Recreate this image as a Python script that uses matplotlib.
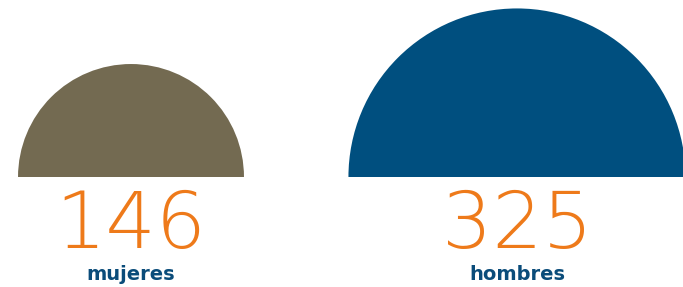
import numpy as np
import matplotlib
matplotlib.use('Agg')
from matplotlib import pyplot as plt
from matplotlib.patches import Wedge

labels = ['mujeres', 'hombres']
values = [146, 325]
colors = ['#736a51', '#004f7f']
centers_x = [131, 517]

fig = plt.figure(figsize=(6.83, 2.87), dpi=100)
ax = fig.add_axes([0, 0, 1, 1])
ax.set_xlim(0, 683)
ax.set_ylim(0, 287)
ax.axis('off')

base = 287 - 177
k = 9.35  # radius per sqrt(value), so area scales with value
for lab, v, c, cx in zip(labels, values, colors, centers_x):
    r = k * np.sqrt(v)
    ax.add_patch(Wedge((cx, base), r, 0, 180, color=c, lw=0))
    ax.text(cx, 287 - 248, str(v), ha='center', va='baseline',
            fontsize=57, color='#ee7a1a', fontweight='light',
            family=['DejaVu Sans'])
    ax.text(cx, 287 - 280, lab, ha='center', va='baseline',
            fontsize=14, color='#0a4c7a', fontweight='bold')

fig.savefig('out.png', dpi=100)
